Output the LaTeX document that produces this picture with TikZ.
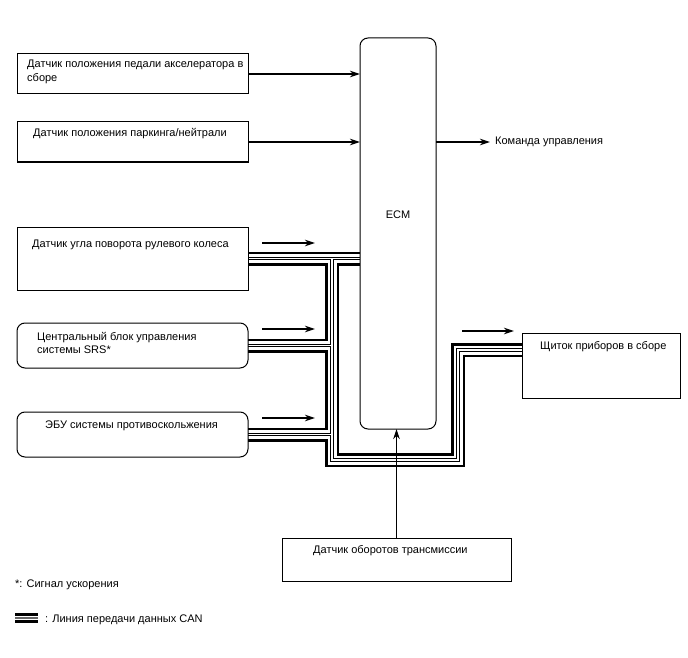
\documentclass[tikz,border=0pt]{standalone}
\usepackage{fontspec}
\setmainfont{Liberation Sans}
\usetikzlibrary{arrows.meta,positioning,calc,backgrounds}

\begin{document}
\begin{tikzpicture}[x=1pt, y=-1pt,
  box/.style={draw=black, line width=1pt, inner sep=0pt, outer sep=0pt},
  sbox/.style={box, minimum width=231pt},
  rbox/.style={box, minimum width=231pt, rounded corners=8pt},
  txt/.style={font=\fontsize{11}{13.5}\selectfont, inner sep=0pt, anchor=base west, align=left},
  arr/.style={-{Stealth[length=10pt, width=6.5pt]}, line width=1.1pt}
]
  \useasboundingbox (0,0) rectangle (688,658);

  % sensors (left column)
  \node[sbox, minimum height=40pt] (acc)   at (132.5,74)  {};
  \node[sbox, minimum height=40pt] (park)  at (132.5,142) {};
  \node[sbox, minimum height=63pt] (steer) at (132.5,258.5) {};
  \node[rbox, minimum height=45pt] (srs)   at (132.5,345.5) {};
  \node[rbox, minimum height=45pt] (skid)  at (132.5,434.5) {};

  % ECM, cluster, transmission sensor
  \node[box, rounded corners=8pt, minimum width=76pt, minimum height=391pt] (ecm) at (398,233.5) {};
  \node[box, minimum width=158pt, minimum height=65pt] (clu) at (601,365.5) {};
  \node[box, minimum width=229pt, minimum height=43pt] (trans) at (396.5,559.5) {};

  % texts
  \node[txt] at (27,81.5) {Датчик положения педали акселератора в\\сборе};
  \node[txt] at (33,136) {Датчик положения паркинга/нейтрали};
  \node[txt] at (32,247) {Датчик угла поворота рулевого колеса};
  \node[txt] at (37,353.5) {Центральный блок управления\\системы SRS*};
  \node[txt] at (45,428) {ЭБУ системы противоскольжения};
  \node[txt] at (540,349) {Щиток приборов в сборе};
  \node[txt] at (313,553) {Датчик оборотов трансмиссии};
  \node[txt, anchor=center] at (398,215) {ECM};
  \node[txt, anchor=west] (cmd) at (495,142) {Команда управления};

  % signal arrows
  \draw[arr] (acc.east) -- (acc.east -| ecm.west);
  \draw[arr] (park.east) -- (park.east -| ecm.west);
  \draw[arr] (ecm.east |- cmd.west) -- ([xshift=-5pt]cmd.west);
  \draw[arr] (trans.north) -- (trans.north |- ecm.south);

  % small direction arrows
  \coordinate (stA) at (262,243); \coordinate (stB) at (315,243);
  \coordinate (srA) at (262,329); \coordinate (srB) at (315,329);
  \coordinate (skA) at (262,418); \coordinate (skB) at (315,418);
  \coordinate (clA) at (462,331); \coordinate (clB) at (514,331);
  \draw[arr] (stA) -- (stB);
  \draw[arr] (srA) -- (srB);
  \draw[arr] (skA) -- (skB);
  \draw[arr] (clA) -- (clB);

  % CAN bus
  \coordinate (jt) at (332,258.5);
  \coordinate (jb) at (332,460);
  \coordinate (cb) at (458,460);
  \coordinate (ct) at (458,350);
  \begin{scope}[on background layer]
    \path[save path=\canbus] (steer.east) -- (steer.east -| ecm.west)
      (jt) -- (jb) -- (cb) -- (ct) -- (ct -| clu.west)
      (srs.east) -- (srs.east -| jt)
      (skid.east) -- (skid.east -| jt);
    \foreach \w/\c in {14/black, 9/white, 3.6/black, 1.4/white}
      \draw[line width=\w pt, draw=\c, line join=miter, use path=\canbus];
  \end{scope}

  % legend
  \node[txt] at (15,587) {*: Сигнал ускорения};
  \coordinate (lgA) at (15,618);
  \coordinate (lgB) at (38,618);
  \foreach \w/\c in {10/black, 4.4/white, 1.2/black!60}
    \draw[line width=\w pt, draw=\c] (lgA) -- (lgB);
  \node[txt] at (45,622) {: Линия передачи данных CAN};
\end{tikzpicture}
\end{document}
